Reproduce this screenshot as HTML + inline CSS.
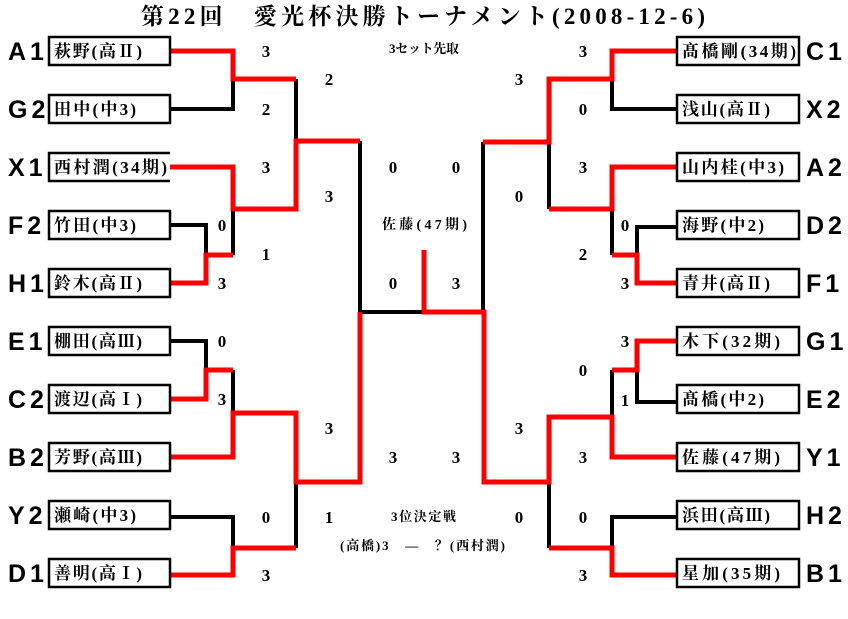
<!DOCTYPE html>
<html><head><meta charset="utf-8"><style>
html,body{margin:0;padding:0;background:#fff;}
svg{display:block;}
.t{font-family:"Liberation Serif","Noto Serif CJK SC",serif;font-weight:bold;fill:#000;}
.n{font-size:17px;text-anchor:middle;}
.b{font-size:17px;}
.s{font-size:12px;text-anchor:middle;}
.l{font-family:"Liberation Sans","DejaVu Sans",sans-serif;font-weight:bold;font-size:25px;fill:#000;letter-spacing:4px;}
.k{stroke:#000;stroke-width:4;fill:none;}
.r{stroke:#f00;stroke-width:5;fill:none;}
.bx{stroke:#000;stroke-width:2.5;fill:#fff;}
</style></head><body>
<svg width="848" height="619" viewBox="0 0 848 619" xmlns="http://www.w3.org/2000/svg">
<text x="141" y="24" class="t" font-size="23" textLength="564" lengthAdjust="spacing">第22回　愛光杯決勝トーナメント(2008-12-6)</text>

<!-- left black lines -->
<path class="k" d="M170 109H233V79"/>
<path class="k" d="M296 79V141"/>
<path class="k" d="M170 225H206V255"/>
<path class="k" d="M233 209V255"/>
<path class="k" d="M360 141V312H424"/>
<path class="k" d="M170 341H206V370"/>
<path class="k" d="M233 370V413"/>
<path class="k" d="M170 517H233V548"/>
<path class="k" d="M296 482V548"/>
<!-- left red -->
<path class="r" d="M170 51H233V79H296"/>
<path class="r" d="M360 141H296V209H233V167H170"/>
<path class="r" d="M170 283H206V255H233"/>
<path class="r" d="M170 399H206V370H233"/>
<path class="r" d="M170 457H233V413H296V482H360V312"/>
<path class="r" d="M170 575H233V548H296"/>
<!-- center -->
<path class="r" d="M424 250V312H486"/>
<!-- right black -->
<path class="k" d="M483 142V310"/>
<path class="k" d="M677 109H612V79"/>
<path class="k" d="M549 142V209"/>
<path class="k" d="M612 209V255"/>
<path class="k" d="M677 227H637V255"/>
<path class="k" d="M612 370V417"/>
<path class="k" d="M677 402H637V370"/>
<path class="k" d="M549 482V548"/>
<path class="k" d="M677 517H612V548"/>
<!-- right red -->
<path class="r" d="M677 51H612V79H549V142H483"/>
<path class="r" d="M677 167H612V209H549"/>
<path class="r" d="M677 283H637V255H612"/>
<path class="r" d="M484 310V482H549V417H612V457H677"/>
<path class="r" d="M612 370H637V341H677"/>
<path class="r" d="M549 548H612V575H677"/>

<g class="bx">
<rect x="49" y="37" width="121" height="28"/>
<rect x="49" y="95" width="121" height="28"/>
<rect x="49" y="211" width="121" height="28"/>
<rect x="49" y="269" width="121" height="28"/>
<rect x="49" y="327" width="121" height="28"/>
<rect x="49" y="385" width="121" height="28"/>
<rect x="49" y="443" width="121" height="28"/>
<rect x="49" y="501" width="121" height="28"/>
<rect x="49" y="559" width="121" height="28"/>
<rect x="677" y="37" width="122" height="28"/>
<rect x="677" y="95" width="122" height="28"/>
<rect x="677" y="153" width="122" height="28"/>
<rect x="677" y="211" width="122" height="28"/>
<rect x="677" y="269" width="122" height="28"/>
<rect x="677" y="327" width="122" height="28"/>
<rect x="677" y="385" width="122" height="28"/>
<rect x="677" y="443" width="122" height="28"/>
<rect x="677" y="501" width="122" height="28"/>
<rect x="677" y="559" width="122" height="28"/>
</g>
<path class="k" style="stroke-width:2.5" d="M170 153H49V181H170"/>

<g class="t b" lengthAdjust="spacing">
<text x="54" y="57" textLength="88">萩野(高Ⅱ)</text>
<text x="54" y="115" textLength="82">田中(中3)</text>
<text x="54" y="173" textLength="113">西村潤(34期)</text>
<text x="54" y="231" textLength="82">竹田(中3)</text>
<text x="54" y="289" textLength="88">鈴木(高Ⅱ)</text>
<text x="54" y="347" textLength="88">棚田(高Ⅲ)</text>
<text x="54" y="405" textLength="88">渡辺(高Ⅰ)</text>
<text x="54" y="463" textLength="88">芳野(高Ⅲ)</text>
<text x="54" y="521" textLength="82">瀬崎(中3)</text>
<text x="54" y="579" textLength="88">善明(高Ⅰ)</text>
<text x="682" y="57" textLength="114">髙橋剛(34期)</text>
<text x="682" y="115" textLength="88">浅山(高Ⅱ)</text>
<text x="682" y="173" textLength="102">山内桂(中3)</text>
<text x="682" y="231" textLength="82">海野(中2)</text>
<text x="682" y="289" textLength="88">青井(高Ⅱ)</text>
<text x="682" y="347" textLength="98">木下(32期)</text>
<text x="682" y="405" textLength="82">髙橋(中2)</text>
<text x="682" y="463" textLength="98">佐藤(47期)</text>
<text x="682" y="521" textLength="88">浜田(高Ⅲ)</text>
<text x="682" y="579" textLength="98">星加(35期)</text>
</g>

<g class="l">
<text x="8" y="60">A1</text><text x="8" y="118">G2</text><text x="8" y="176">X1</text>
<text x="8" y="234">F2</text><text x="8" y="292">H1</text><text x="8" y="350">E1</text>
<text x="8" y="408">C2</text><text x="8" y="466">B2</text><text x="8" y="524">Y2</text>
<text x="8" y="582">D1</text>
<text x="806" y="60">C1</text><text x="806" y="118">X2</text><text x="806" y="176">A2</text>
<text x="806" y="234">D2</text><text x="806" y="292">F1</text><text x="806" y="350">G1</text>
<text x="806" y="408">E2</text><text x="806" y="466">Y1</text><text x="806" y="524">H2</text>
<text x="806" y="582">B1</text>
</g>

<g class="t n">
<text x="266" y="57">3</text><text x="329" y="85">2</text><text x="266" y="115">2</text>
<text x="266" y="173">3</text><text x="329" y="202">3</text><text x="222" y="231">0</text>
<text x="266" y="260">1</text><text x="222" y="289">3</text>
<text x="393" y="173">0</text><text x="456" y="173">0</text>
<text x="393" y="289">0</text><text x="456" y="289">3</text>
<text x="583" y="57">3</text><text x="519" y="85">3</text><text x="583" y="115">0</text>
<text x="583" y="173">3</text><text x="519" y="202">0</text><text x="625" y="231">0</text>
<text x="583" y="260">2</text><text x="625" y="289">3</text>
<text x="222" y="347">0</text><text x="222" y="405">3</text><text x="329" y="434">3</text>
<text x="393" y="463">3</text><text x="456" y="463">3</text>
<text x="266" y="523">0</text><text x="329" y="523">1</text><text x="266" y="581">3</text>
<text x="625" y="347">3</text><text x="583" y="376">0</text><text x="625" y="406">1</text>
<text x="519" y="434">3</text><text x="583" y="463">3</text>
<text x="519" y="523">0</text><text x="583" y="523">0</text><text x="583" y="581">3</text>
</g>
<text x="389" y="53" class="t" font-size="13" textLength="70" lengthAdjust="spacing">3セット先取</text>
<text x="382" y="229" class="t" font-size="14" textLength="85" lengthAdjust="spacing">佐藤(47期)</text>
<text x="391" y="521" class="t" font-size="13" textLength="65" lengthAdjust="spacing">3位決定戦</text>
<text x="340" y="550" class="t" font-size="13" textLength="165" lengthAdjust="spacing">(高橋)3　—　？(西村潤)</text>
</svg>
</body></html>
